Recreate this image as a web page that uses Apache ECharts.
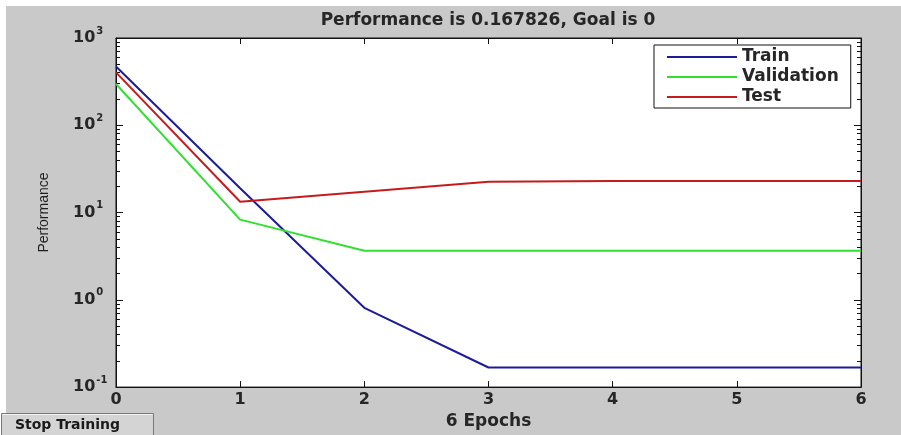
<!DOCTYPE html>
<html>
<head>
<meta charset="utf-8">
<title>Performance</title>
<script src="https://cdn.jsdelivr.net/npm/echarts@6/dist/echarts.min.js"></script>
<style>
  html, body { margin: 0; padding: 0; background: #ffffff; }
  #chart { width: 901px; height: 435px; }
</style>
</head>
<body>
<div id="chart"></div>
<script>
// Training record: mean squared error per epoch
const epochs = [0, 1, 2, 3, 4, 5, 6];
const trainPerf = [472, 19, 0.81, 0.1678, 0.1678, 0.1678, 0.167826];
const validationPerf = [297, 8.3, 3.65, 3.65, 3.65, 3.65, 3.65];
const testPerf = [404, 13.3, 17.3, 22.5, 23, 23, 23];

const seriesNames = ['Train', 'Validation', 'Test'];
const seriesColors = ['#1c1c98', '#30e030', '#c41c1c'];

const xTicks = [0, 1, 2, 3, 4, 5, 6];
const yMajorTicks = [0.1, 1, 10, 100, 1000];
const yMinorTicks = [
  0.2, 0.3, 0.4, 0.5, 0.6, 0.7, 0.8, 0.9,
  2, 3, 4, 5, 6, 7, 8, 9,
  20, 30, 40, 50, 60, 70, 80, 90,
  200, 300, 400, 500, 600, 700, 800, 900
];

const titleText = 'Performance is 0.167826, Goal is 0';
const xName = '6 Epochs';
const yName = 'Performance';
const buttonText = 'Stop Training';

const FONT = 'DejaVu Sans';
const TEXT = '#262626';
const FRAME = '#111111';

function pairs(values) {
  return epochs.map((e, i) => [e, values[i]]);
}

// "10" with the decade exponent raised beside it
function decadeLabel(v) {
  const e = Math.round(Math.log10(v));
  return '{b|10}{e|' + e + '}';
}

const yRange = { type: 'log', logBase: 10, min: 0.1, max: 1000 };

const chart = echarts.init(document.getElementById('chart'), null, { renderer: 'canvas' });

chart.setOption({
  animation: false,
  backgroundColor: 'transparent',
  graphic: [
    { type: 'rect', z: -10, shape: { x: 6, y: 6, width: 895, height: 429 }, style: { fill: '#c9c9c9' } },
    {
      type: 'group', left: 0, top: 412, z: 10,
      children: [
        { type: 'rect', shape: { x: 0, y: 0, width: 152, height: 23 }, style: { fill: '#d4d4d4', stroke: '#7a7a7a', lineWidth: 1 } },
        { type: 'line', shape: { x1: 1, y1: 1, x2: 151, y2: 1 }, style: { stroke: '#f2f2f2', lineWidth: 1 } },
        { type: 'text', x: 66, y: 12, style: { text: buttonText, font: 'bold 14px "DejaVu Sans"', fill: '#1a1a1a', align: 'center', verticalAlign: 'middle' } }
      ]
    }
  ],
  title: {
    text: titleText,
    left: 488,
    top: 12,
    textAlign: 'center',
    padding: 0,
    textStyle: { fontFamily: FONT, fontWeight: 'bold', fontSize: 17, color: TEXT }
  },
  legend: {
    data: seriesNames,
    orient: 'vertical',
    left: 654,
    top: 45,
    padding: [2, 12, 1, 13],
    itemGap: 0,
    itemWidth: 70,
    itemHeight: 2,
    icon: 'rect',
    backgroundColor: '#ffffff',
    borderColor: FRAME,
    borderWidth: 1,
    borderRadius: 0,
    textStyle: { fontFamily: FONT, fontWeight: 'bold', fontSize: 17, color: TEXT, lineHeight: 20 }
  },
  grid: {
    left: 116, right: 40, top: 38, bottom: 41,
    show: true, backgroundColor: '#ffffff', borderColor: FRAME, borderWidth: 1
  },
  xAxis: [
    {
      type: 'value', min: 0, max: 6, interval: 1, position: 'bottom',
      name: xName, nameLocation: 'middle', nameGap: 21,
      nameTextStyle: { fontFamily: FONT, fontWeight: 'bold', fontSize: 17, color: TEXT },
      axisLine: { show: true, lineStyle: { color: FRAME, width: 1 } },
      axisTick: { show: true, inside: true, length: 6, lineStyle: { color: FRAME } },
      axisLabel: {
        margin: 5, fontFamily: FONT, fontWeight: 'bold', fontSize: 16, color: TEXT,
        customValues: xTicks
      },
      splitLine: { show: false }
    },
    {
      type: 'value', min: 0, max: 6, interval: 1, position: 'top',
      axisLine: { show: true, lineStyle: { color: FRAME, width: 1 } },
      axisTick: { show: true, inside: true, length: 6, lineStyle: { color: FRAME } },
      axisLabel: { show: false },
      splitLine: { show: false }
    }
  ],
  yAxis: [
    Object.assign({}, yRange, {
      position: 'left',
      name: yName, nameLocation: 'middle', nameGap: 65, nameRotate: 90,
      nameTextStyle: { fontFamily: 'Liberation Sans', fontSize: 14, color: '#1e1e1e' },
      axisLine: { show: true, lineStyle: { color: FRAME, width: 1 } },
      axisTick: { show: true, inside: true, length: 7, lineStyle: { color: FRAME }, customValues: yMajorTicks },
      axisLabel: {
        align: 'left', margin: 43, formatter: decadeLabel, customValues: yMajorTicks,
        rich: {
          b: { fontFamily: FONT, fontWeight: 'bold', fontSize: 16, color: TEXT, lineHeight: 24 },
          e: { fontFamily: FONT, fontWeight: 'bold', fontSize: 10, color: TEXT, lineHeight: 9, verticalAlign: 'top', padding: [0, 0, 0, 1] }
        }
      },
      splitLine: { show: false }
    }),
    Object.assign({}, yRange, {
      position: 'left',
      axisLine: { show: false },
      axisTick: { show: true, inside: true, length: 4, lineStyle: { color: FRAME }, customValues: yMinorTicks },
      axisLabel: { show: false },
      splitLine: { show: false }
    }),
    Object.assign({}, yRange, {
      position: 'right',
      axisLine: { show: true, lineStyle: { color: FRAME, width: 1 } },
      axisTick: { show: true, inside: true, length: 7, lineStyle: { color: FRAME }, customValues: yMajorTicks },
      axisLabel: { show: false },
      splitLine: { show: false }
    }),
    Object.assign({}, yRange, {
      position: 'right',
      axisLine: { show: false },
      axisTick: { show: true, inside: true, length: 4, lineStyle: { color: FRAME }, customValues: yMinorTicks },
      axisLabel: { show: false },
      splitLine: { show: false }
    })
  ],
  series: [
    { name: seriesNames[0], values: trainPerf },
    { name: seriesNames[1], values: validationPerf },
    { name: seriesNames[2], values: testPerf }
  ].map((s, i) => ({
    name: s.name,
    type: 'line',
    xAxisIndex: 0,
    yAxisIndex: 0,
    data: pairs(s.values),
    showSymbol: false,
    symbol: 'none',
    color: seriesColors[i],
    lineStyle: { color: seriesColors[i], width: 2 },
    emphasis: { disabled: true }
  }))
});
</script>
</body>
</html>
